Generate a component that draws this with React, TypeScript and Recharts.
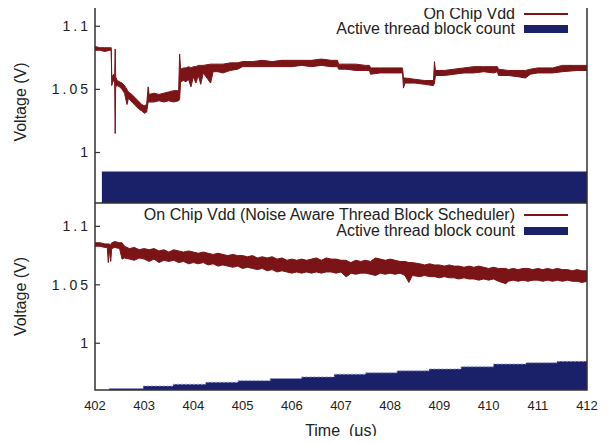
import { ComposedChart, Area, XAxis, YAxis, ReferenceArea } from 'recharts'

const timeTicks = [402, 403, 404, 405, 406, 407, 408, 409, 410, 411, 412]
const voltTicks = [1, 1.05, 1.1]

// top panel: baseline scheduler, noisy Vdd band as low/high envelope
const topTime = [
  402.0, 402.1, 402.2, 402.3, 402.33, 402.34, 402.36, 402.38, 402.4, 402.41, 402.42, 402.45, 402.5, 402.55,
  402.6, 402.65, 402.68, 402.75, 402.8, 402.9, 402.95, 403.0, 403.05, 403.08, 403.1, 403.2, 403.3, 403.4,
  403.5, 403.6, 403.7, 403.72, 403.74, 403.8, 403.85, 403.9, 403.95, 404.0, 404.05, 404.1, 404.15, 404.2,
  404.35, 404.4, 404.5, 404.6, 404.75, 404.9, 405.0, 405.2, 405.4, 405.6, 405.8, 406.0, 406.2, 406.4,
  406.6, 406.8, 406.93, 406.95, 407.1, 407.3, 407.5, 407.58, 407.6, 407.8, 408.0, 408.2, 408.25, 408.27,
  408.3, 408.5, 408.7, 408.88, 408.9, 408.92, 409.1, 409.3, 409.5, 409.7, 409.9, 410.1, 410.18, 410.2,
  410.4, 410.6, 410.75, 410.85, 411.0, 411.3, 411.5, 411.8, 412.0,
]
const topLow = [
  1.081, 1.081, 1.080, 1.081, 1.081, 1.053, 1.056, 1.057, 1.055, 1.015, 1.052, 1.053, 1.052, 1.05,
  1.047, 1.038, 1.043, 1.04, 1.038, 1.034, 1.033, 1.031, 1.032, 1.04, 1.04, 1.04, 1.041, 1.04,
  1.041, 1.04, 1.041, 1.042, 1.056, 1.057, 1.056, 1.058, 1.052, 1.06, 1.055, 1.061, 1.054, 1.063,
  1.055, 1.064, 1.064, 1.063, 1.065, 1.066, 1.068, 1.068, 1.068, 1.068, 1.068, 1.068, 1.069, 1.068,
  1.069, 1.068, 1.068, 1.066, 1.066, 1.065, 1.065, 1.065, 1.062, 1.063, 1.063, 1.063, 1.063, 1.051,
  1.055, 1.055, 1.054, 1.053, 1.055, 1.061, 1.061, 1.062, 1.063, 1.063, 1.064, 1.063, 1.064, 1.061,
  1.061, 1.06, 1.059, 1.062, 1.063, 1.063, 1.064, 1.065, 1.065,
]
const topHigh = [
  1.084, 1.083, 1.083, 1.083, 1.083, 1.06, 1.061, 1.062, 1.06, 1.082, 1.06, 1.057, 1.056, 1.055,
  1.053, 1.05, 1.048, 1.046, 1.044, 1.04, 1.038, 1.037, 1.038, 1.052, 1.046, 1.047, 1.046, 1.047,
  1.048, 1.049, 1.049, 1.078, 1.066, 1.067, 1.067, 1.068, 1.067, 1.068, 1.068, 1.069, 1.069, 1.069,
  1.07, 1.07, 1.07, 1.07, 1.071, 1.071, 1.072, 1.072, 1.073, 1.072, 1.073, 1.073, 1.073, 1.073,
  1.074, 1.073, 1.073, 1.07, 1.07, 1.07, 1.069, 1.069, 1.067, 1.067, 1.067, 1.067, 1.067, 1.059,
  1.059, 1.058, 1.057, 1.057, 1.072, 1.065, 1.065, 1.066, 1.067, 1.068, 1.068, 1.068, 1.068, 1.066,
  1.065, 1.065, 1.065, 1.066, 1.067, 1.067, 1.069, 1.069, 1.069,
]
const topBlockTime = [402.14, 412]
const topBlockLevel = [0.985, 0.985]

// bottom panel: noise aware thread block scheduler
const bottomTime = [
  402.0, 402.1, 402.2, 402.25, 402.27, 402.29, 402.32, 402.34, 402.4, 402.5, 402.55, 402.6, 402.7, 402.8,
  402.9, 403.0, 403.1, 403.2, 403.3, 403.4, 403.5, 403.6, 403.7, 403.8, 403.9, 404.0, 404.1, 404.2,
  404.3, 404.4, 404.5, 404.6, 404.7, 404.8, 404.9, 405.0, 405.1, 405.2, 405.3, 405.4, 405.5, 405.6,
  405.7, 405.8, 405.9, 406.0, 406.1, 406.2, 406.3, 406.4, 406.5, 406.6, 406.7, 406.8, 406.9, 407.0,
  407.1, 407.15, 407.2, 407.3, 407.4, 407.5, 407.6, 407.7, 407.8, 407.9, 408.0, 408.1, 408.2, 408.3,
  408.38, 408.45, 408.6, 408.7, 408.8, 408.9, 409.0, 409.1, 409.2, 409.3, 409.4, 409.5, 409.6, 409.7,
  409.8, 409.9, 410.0, 410.1, 410.2, 410.35, 410.4, 410.5, 410.6, 410.7, 410.8, 410.9, 411.0, 411.1,
  411.2, 411.3, 411.4, 411.5, 411.6, 411.7, 411.8, 411.9, 412.0,
]
const bottomLow = [
  1.083, 1.083, 1.082, 1.082, 1.069, 1.08, 1.07, 1.081, 1.082, 1.081, 1.072, 1.073, 1.072, 1.071,
  1.073, 1.072, 1.07, 1.072, 1.069, 1.071, 1.07, 1.071, 1.069, 1.07, 1.068, 1.069, 1.068, 1.069,
  1.067, 1.068, 1.066, 1.067, 1.066, 1.065, 1.066, 1.064, 1.065, 1.064, 1.063, 1.064, 1.062, 1.063,
  1.061, 1.062, 1.061, 1.06, 1.061, 1.06, 1.061, 1.06, 1.061, 1.06, 1.061, 1.061, 1.06, 1.061,
  1.057, 1.058, 1.06, 1.059, 1.06, 1.06, 1.059, 1.058, 1.06, 1.059, 1.06, 1.059, 1.06, 1.058,
  1.052, 1.058, 1.057, 1.058, 1.057, 1.057, 1.056, 1.057, 1.056, 1.056, 1.055, 1.056, 1.055, 1.055,
  1.054, 1.055, 1.054, 1.055, 1.053, 1.051, 1.053, 1.054, 1.053, 1.054, 1.053, 1.054, 1.054, 1.053,
  1.054, 1.053, 1.054, 1.053, 1.054, 1.053, 1.053, 1.052, 1.053,
]
const bottomHigh = [
  1.086, 1.086, 1.085, 1.085, 1.085, 1.085, 1.084, 1.086, 1.087, 1.086, 1.086, 1.083, 1.081, 1.082,
  1.08, 1.081, 1.08, 1.081, 1.079, 1.08, 1.078, 1.08, 1.079, 1.078, 1.079, 1.078, 1.077, 1.078,
  1.077, 1.076, 1.077, 1.076, 1.075, 1.076, 1.075, 1.075, 1.074, 1.075, 1.073, 1.074, 1.073, 1.074,
  1.072, 1.073, 1.071, 1.072, 1.071, 1.072, 1.071, 1.072, 1.073, 1.071, 1.073, 1.072, 1.072, 1.071,
  1.071, 1.07, 1.069, 1.071, 1.07, 1.071, 1.07, 1.073, 1.072, 1.071, 1.072, 1.071, 1.07, 1.07,
  1.069, 1.069, 1.068, 1.067, 1.068, 1.067, 1.067, 1.066, 1.067, 1.066, 1.066, 1.065, 1.066, 1.065,
  1.066, 1.065, 1.064, 1.065, 1.064, 1.064, 1.063, 1.064, 1.063, 1.064, 1.064, 1.063, 1.064, 1.063,
  1.064, 1.063, 1.064, 1.063, 1.063, 1.062, 1.063, 1.062, 1.062,
]
const bottomBlockTime = [
  402.29, 402.98, 403.59, 404.25, 404.91, 405.56, 406.2, 406.86, 407.5, 408.14, 408.79, 409.44, 410.1,
  410.76, 411.39, 412,
]
const bottomBlockLevel = [
  0.9612, 0.9634, 0.9649, 0.9666, 0.968, 0.9698, 0.9712, 0.9735, 0.9747, 0.9764, 0.978, 0.9799, 0.9822,
  0.9833, 0.9845, 0.9845,
]

const VDD = '#7b1416'
const BLOCKS = '#1b2169'
const INK = '#222'

function toVddRows(time: number[], low: number[], high: number[]) {
  return time.map((t, i) => ({ t, vdd: [low[i], high[i]] }))
}

function toBlockRows(time: number[], level: number[]) {
  return time.map((t, i) => ({ t, blocks: level[i] }))
}

function VoltLabel({ viewBox }: any) {
  const cx = 20
  const cy = viewBox.y + viewBox.height / 2
  return (
    <text
      x={cx}
      y={cy}
      transform={`rotate(-90 ${cx} ${cy})`}
      textAnchor="middle"
      dominantBaseline="central"
      fontSize={16}
      fill={INK}
    >
      Voltage (V)
    </text>
  )
}

function LegendRow({ top, label, kind }: { top: number; label: string; kind: 'line' | 'box' }) {
  return (
    <div
      style={{
        position: 'absolute',
        top,
        right: 40,
        height: 16,
        lineHeight: '16px',
        fontSize: 16,
        color: INK,
        display: 'flex',
        alignItems: 'center',
        whiteSpace: 'nowrap',
      }}
    >
      <span>{label}</span>
      <span
        style={{
          marginLeft: 9,
          width: 44,
          height: kind === 'line' ? 2 : 8,
          background: kind === 'line' ? VDD : BLOCKS,
        }}
      />
    </div>
  )
}

interface PanelProps {
  top: number
  height: number
  vddRows: { t: number; vdd: number[] }[]
  blockRows: { t: number; blocks: number }[]
  timeAxis: boolean
}

function Panel({ top, height, vddRows, blockRows, timeAxis }: PanelProps) {
  return (
    <div style={{ position: 'absolute', left: 0, top }}>
      <ComposedChart
        width={608}
        height={height}
        margin={{ top: timeAxis ? 0 : 1, right: 21, bottom: 0, left: 0 }}
      >
        {timeAxis ? (
          <XAxis
            type="number"
            dataKey="t"
            domain={[402, 412]}
            ticks={timeTicks}
            allowDataOverflow
            height={54}
            axisLine={false}
            tickLine={false}
            tickSize={0}
            tickMargin={11}
            tick={{ fontSize: 13, fill: INK }}
            label={{ value: 'Time\u00a0 (μs)', position: 'insideBottom', offset: 8, fontSize: 16, fill: INK }}
          />
        ) : (
          <XAxis
            type="number"
            dataKey="t"
            domain={[402, 412]}
            ticks={timeTicks}
            allowDataOverflow
            height={0}
            axisLine={false}
            tick={false}
            tickSize={-5}
            tickLine={{ stroke: '#333', strokeWidth: 1.2 }}
          />
        )}
        {timeAxis && (
          <XAxis
            xAxisId="top"
            orientation="top"
            type="number"
            dataKey="t"
            domain={[402, 412]}
            ticks={timeTicks}
            allowDataOverflow
            height={0}
            axisLine={false}
            tick={false}
            tickSize={-5}
            tickLine={{ stroke: '#333', strokeWidth: 1.2 }}
          />
        )}
        <YAxis
          type="number"
          domain={[0.96, 1.12]}
          ticks={voltTicks}
          allowDataOverflow
          width={95}
          axisLine={false}
          tickSize={-5}
          tickMargin={9}
          tickLine={{ stroke: '#333', strokeWidth: 1.2 }}
          tick={{ fontSize: 14, fill: INK, letterSpacing: 3 }}
          label={<VoltLabel />}
        />
        <Area
          data={blockRows}
          dataKey="blocks"
          type="stepAfter"
          baseValue="dataMin"
          fill={BLOCKS}
          fillOpacity={1}
          stroke="#8f98cf"
          strokeWidth={1}
          strokeDasharray="2 2"
          dot={false}
          activeDot={false}
          isAnimationActive={false}
        />
        <Area
          data={vddRows}
          dataKey="vdd"
          type="linear"
          fill={VDD}
          fillOpacity={1}
          stroke={VDD}
          strokeWidth={1}
          dot={false}
          activeDot={false}
          isAnimationActive={false}
        />
        <ReferenceArea
          x1={402}
          x2={412}
          y1={0.96}
          y2={1.12}
          fill="none"
          stroke="#333"
          strokeWidth={1.5}
          ifOverflow="visible"
        />
      </ComposedChart>
    </div>
  )
}

export default function App() {
  return (
    <div
      style={{
        position: 'relative',
        width: 608,
        height: 444,
        margin: -8,
        background: '#fff',
        fontFamily: '"Liberation Sans", Arial, Helvetica, sans-serif',
      }}
    >
      <Panel
        top={0}
        height={203}
        vddRows={toVddRows(topTime, topLow, topHigh)}
        blockRows={toBlockRows(topBlockTime, topBlockLevel)}
        timeAxis={false}
      />
      <Panel
        top={203}
        height={241}
        vddRows={toVddRows(bottomTime, bottomLow, bottomHigh)}
        blockRows={toBlockRows(bottomBlockTime, bottomBlockLevel)}
        timeAxis
      />
      <LegendRow top={5.5} label="On Chip Vdd" kind="line" />
      <LegendRow top={21} label="Active thread block count" kind="box" />
      <LegendRow top={207} label="On Chip Vdd (Noise Aware Thread Block Scheduler)" kind="line" />
      <LegendRow top={223} label="Active thread block count" kind="box" />
    </div>
  )
}
